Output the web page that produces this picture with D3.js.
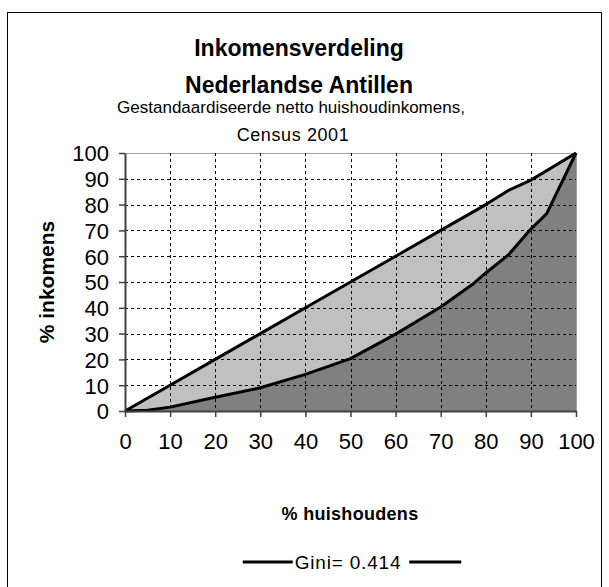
<!DOCTYPE html>
<meta charset="utf-8">
<script src="https://d3js.org/d3.v7.min.js"></script>
<style>
  body { margin: 0; background: #fff; }
  text { font-family: Arial, 'Liberation Sans', sans-serif; fill: #000; }
</style>
<body>
<div id="chart"></div>
<script>

// Lorenz curve (% huishoudens -> % inkomens)
var lorenzX = [0, 5, 10, 20, 30, 40, 50, 60, 70, 77, 80, 85, 90, 93.5, 100];
var lorenzY = [0, 0.3, 1.5, 5.3, 9, 14.2, 20.3, 29.8, 40.3, 49, 53.5, 60.5, 70.5, 76.5, 100];

// line of equality as drawn
var equalX = [0, 10, 20, 30, 40, 50, 60, 70, 80, 85, 90, 100];
var equalY = [0, 10, 20, 30, 40, 50, 60, 70, 80, 85.5, 89.5, 100];

var ticks = [0, 10, 20, 30, 40, 50, 60, 70, 80, 90, 100];

var titleLines = ["Inkomensverdeling", "Nederlandse Antillen"];
var subtitleLines = ["Gestandaardiseerde netto huishoudinkomens,", "Census 2001"];
var giniText = "Gini= 0.414";

var W = 609, H = 587;
var margin = {top: 153, right: 33, bottom: 176, left: 125},
    width = W - margin.left - margin.right,
    height = H - margin.top - margin.bottom;

var svg = d3.select("#chart")
  .append("svg")
    .attr("width", W)
    .attr("height", H);

// outer frame
svg.append("rect")
  .attr("x", 7.5).attr("y", 12.5)
  .attr("width", 594).attr("height", 590)
  .attr("fill", "none")
  .attr("stroke", "#000")
  .attr("stroke-width", 1);

var g = svg.append("g")
  .attr("transform", "translate(" + margin.left + "," + margin.top + ")");

var x = d3.scaleLinear().domain([0, 100]).range([0, width]);
var y = d3.scaleLinear().domain([0, 100]).range([height, 0]);

var lorenz = lorenzX.map(function(d, i) { return [d, lorenzY[i]]; });
var equal = equalX.map(function(d, i) { return [d, equalY[i]]; });

var line = d3.line()
  .x(function(d) { return x(d[0]); })
  .y(function(d) { return y(d[1]); });

// light band between equality line and lorenz curve
g.append("path")
  .attr("d", line(equal.concat(lorenz.slice().reverse())) + "Z")
  .attr("fill", "#c0c0c0");

// dark area under the lorenz curve
g.append("path")
  .datum(lorenz)
  .attr("d", d3.area()
    .x(function(d) { return x(d[0]); })
    .y0(y(0))
    .y1(function(d) { return y(d[1]); }))
  .attr("fill", "#808080");

// plot area border (top and right)
g.append("path")
  .attr("d", "M0,0.5H" + (width + 0.5) + "V" + height)
  .attr("fill", "none")
  .attr("stroke", "#a0a0a0")
  .attr("stroke-width", 1);

// dashed grid
g.append("g")
  .selectAll("line")
  .data(ticks.slice(1, -1))
  .enter().append("line")
    .attr("x1", function(d) { return Math.round(x(d)) + 0.5; })
    .attr("x2", function(d) { return Math.round(x(d)) + 0.5; })
    .attr("y1", 0).attr("y2", height)
    .attr("stroke", "#000")
    .attr("stroke-dasharray", "3,3");

g.append("g")
  .selectAll("line")
  .data(ticks.slice(1, -1))
  .enter().append("line")
    .attr("y1", function(d) { return Math.round(y(d)) + 0.5; })
    .attr("y2", function(d) { return Math.round(y(d)) + 0.5; })
    .attr("x1", 0).attr("x2", width)
    .attr("stroke", "#000")
    .attr("stroke-dasharray", "3,3");

// curves
g.append("path").datum(equal)
  .attr("d", line)
  .attr("fill", "none").attr("stroke", "#000").attr("stroke-width", 3)
  .attr("stroke-linejoin", "round");

g.append("path").datum(lorenz)
  .attr("d", line)
  .attr("fill", "none").attr("stroke", "#000").attr("stroke-width", 3)
  .attr("stroke-linejoin", "round");

// axes
var xAxis = g.append("g")
  .attr("transform", "translate(0," + height + ")")
  .call(d3.axisBottom(x).tickValues(ticks).tickSize(6).tickPadding(16).tickSizeOuter(0));

var yAxis = g.append("g")
  .call(d3.axisLeft(y).tickValues(ticks).tickSize(6).tickPadding(10).tickSizeOuter(0));

[xAxis, yAxis].forEach(function(a) {
  a.select(".domain").attr("stroke", "#404040").attr("stroke-width", 2);
  a.selectAll(".tick line").attr("stroke", "#404040").attr("stroke-width", 1.5);
  a.selectAll("text")
    .style("font-family", "Arial, 'Liberation Sans', sans-serif")
    .style("font-size", "22px")
    .attr("fill", "#000");
});
yAxis.selectAll("text").attr("dy", "0.36em");

// titles
svg.selectAll("text.title")
  .data(titleLines)
  .enter().append("text")
    .attr("x", 299)
    .attr("y", function(d, i) { return 56 + i * 37; })
    .attr("text-anchor", "middle")
    .style("font-size", "23px")
    .style("font-weight", "bold")
    .text(function(d) { return d; });

svg.selectAll("text.sub")
  .data(subtitleLines)
  .enter().append("text")
    .attr("x", function(d, i) { return i === 0 ? 291 : 293; })
    .attr("y", function(d, i) { return 113 + i * 28; })
    .attr("text-anchor", "middle")
    .style("font-size", function(d, i) { return i === 0 ? "17px" : "18px"; })
    .style("letter-spacing", function(d, i) { return i === 0 ? "0px" : "0.6px"; })
    .text(function(d) { return d; });

// axis titles
svg.append("text")
  .attr("transform", "translate(54," + (margin.top + height / 2) + ") rotate(-90)")
  .attr("text-anchor", "middle")
  .style("font-size", "21px")
  .style("font-weight", "bold")
  .text("% inkomens");

svg.append("text")
  .attr("x", 350)
  .attr("y", 520)
  .attr("text-anchor", "middle")
  .style("font-size", "18px")
  .style("font-weight", "bold")
  .style("letter-spacing", "0.3px")
  .text("% huishoudens");

// gini legend
var gini = svg.append("g");
var gt = gini.append("text")
  .attr("x", 348)
  .attr("y", 569)
  .attr("text-anchor", "middle")
  .style("font-size", "19px")
  .style("letter-spacing", "0.8px")
  .text(giniText);
var bb = gt.node().getBBox();
gini.append("line")
  .attr("x1", bb.x - 52).attr("x2", bb.x - 2)
  .attr("y1", 562).attr("y2", 562)
  .attr("stroke", "#000").attr("stroke-width", 3);
gini.append("line")
  .attr("x1", bb.x + bb.width + 8).attr("x2", bb.x + bb.width + 60)
  .attr("y1", 562).attr("y2", 562)
  .attr("stroke", "#000").attr("stroke-width", 3);

</script>
</body>
